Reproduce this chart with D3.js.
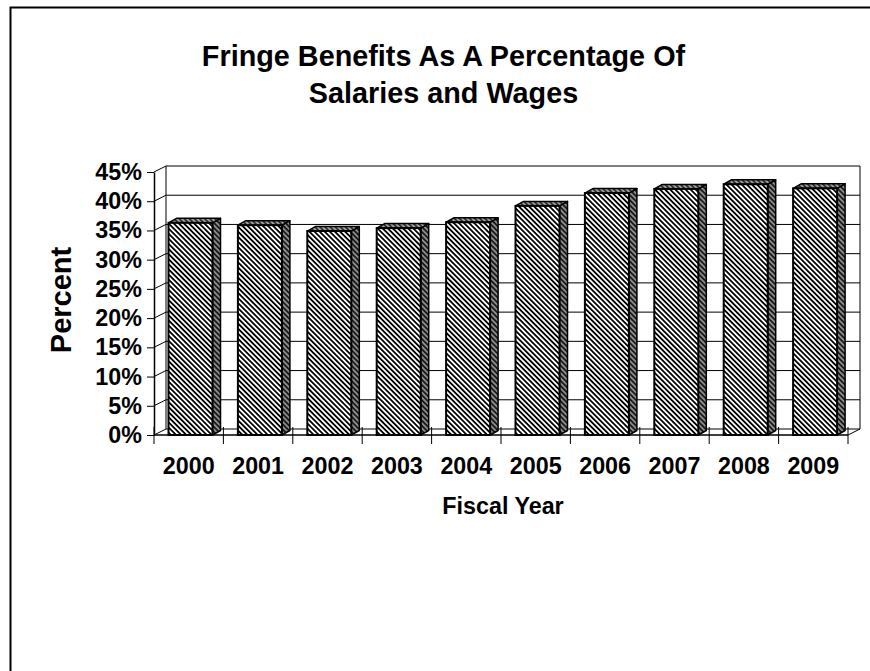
<!DOCTYPE html>
<html>
<head>
<meta charset="utf-8">
<script src="https://cdn.jsdelivr.net/npm/d3@7"></script>
<style>
  html, body { margin: 0; padding: 0; background: #fff; }
  svg { display: block; }
  text { font-family: "Liberation Sans", Arial, sans-serif; font-weight: bold; fill: #000; }
</style>
</head>
<body>
<svg id="chart" width="870" height="671"></svg>
<script>
// ---- data ----
const years = ['2000', '2001', '2002', '2003', '2004', '2005', '2006', '2007', '2008', '2009'];
const values = [36.3, 35.9, 34.9, 35.4, 36.4, 39.2, 41.4, 42.1, 42.9, 42.2];
const yTicks = [0, 5, 10, 15, 20, 25, 30, 35, 40, 45];
const titleLines = ['Fringe Benefits As A Percentage Of', 'Salaries and Wages'];
const xTitle = 'Fiscal Year';
const yTitle = 'Percent';

(function () {
// ---- layout ----
const svg = d3.select('#chart');
const pLeft = 154, pRight = 848, pBottom = 435, pTop = 172;
const depthX = 12, depthY = -6;      // wall depth
const barDX = 8, barDY = -4.5;       // bar depth
const barOffset = 14.5, barW = 44;

const x = d3.scaleBand().domain(years).range([pLeft, pRight]).padding(0);
const y = d3.scaleLinear().domain([0, 45]).range([pBottom, pTop]);

// outer frame
svg.append('rect').attr('x', 10.5).attr('y', 7.5).attr('width', 900).attr('height', 700)
  .attr('fill', 'none').attr('stroke', '#000').attr('stroke-width', 2);

// patterns: diagonal "\" stripes
const defs = svg.append('defs');
function stripePattern(id, bg, fg, period) {
  const w = period * Math.SQRT1_2;
  const p = defs.append('pattern').attr('id', id).attr('patternUnits', 'userSpaceOnUse')
    .attr('width', w).attr('height', 10).attr('patternTransform', 'rotate(-45)');
  p.append('rect').attr('width', w).attr('height', 10).attr('fill', bg);
  p.append('rect').attr('width', w / 2).attr('height', 10).attr('fill', fg);
}
stripePattern('front', '#ffffff', '#000000', 5.1);
stripePattern('side', '#8c8c8c', '#1a1a1a', 5.1);
stripePattern('topf', '#a0a0a0', '#303030', 5.1);

const g = svg.append('g');
const line = (x1, y1, x2, y2, w = 1) => g.append('line')
  .attr('x1', x1).attr('y1', y1).attr('x2', x2).attr('y2', y2)
  .attr('stroke', '#000').attr('stroke-width', w);

// back wall gridlines
yTicks.forEach(t => {
  line(pLeft + depthX, y(t) + depthY, pRight + depthX, y(t) + depthY);
  line(pLeft, y(t), pLeft + depthX, y(t) + depthY);
});
// back wall edges
line(pLeft + depthX, y(45) + depthY, pLeft + depthX, y(0) + depthY);
line(pRight + depthX, y(45) + depthY, pRight + depthX, y(0) + depthY);
// floor
line(pLeft, y(0), pRight, y(0), 1.5);
line(pRight, y(0), pRight + depthX, y(0) + depthY);

// x boundary ticks (crossing)
const bounds = years.map(d => x(d)).concat([pRight]);
bounds.forEach(b => line(b, pBottom - 8, b, pBottom + 9));

// bars
const bars = g.selectAll('.bar').data(years.map((d, i) => ({ year: d, v: values[i] })))
  .enter().append('g').attr('class', 'bar');
bars.append('polygon')
  .attr('points', d => {
    const bx = x(d.year) + barOffset + barW, t = y(d.v), b = y(0);
    return [[bx, t], [bx + barDX, t + barDY], [bx + barDX, b + barDY], [bx, b]].map(p => p.join(',')).join(' ');
  })
  .attr('fill', 'url(#side)').attr('stroke', '#000').attr('stroke-width', 1.5).attr('stroke-linejoin', 'round');
bars.append('polygon')
  .attr('points', d => {
    const bx = x(d.year) + barOffset, t = y(d.v);
    return [[bx, t], [bx + barDX, t + barDY], [bx + barW + barDX, t + barDY], [bx + barW, t]].map(p => p.join(',')).join(' ');
  })
  .attr('fill', 'url(#topf)').attr('stroke', '#000').attr('stroke-width', 1.5).attr('stroke-linejoin', 'round');
bars.append('rect')
  .attr('x', d => x(d.year) + barOffset)
  .attr('y', d => y(d.v))
  .attr('width', barW)
  .attr('height', d => y(0) - y(d.v))
  .attr('fill', 'url(#front)').attr('stroke', '#000').attr('stroke-width', 2);

// y axis
const yAxis = d3.axisLeft(y).tickValues(yTicks).tickFormat(d => d + '%')
  .tickSize(7).tickSizeOuter(0).tickPadding(5);
const ya = svg.append('g').attr('transform', `translate(${pLeft},0)`).call(yAxis);
ya.select('.domain').attr('stroke', '#000').attr('stroke-width', 1.5);
ya.selectAll('.tick line').attr('stroke', '#000');
ya.selectAll('.tick text').attr('font-size', '23.3px')
  .attr('font-family', '"Liberation Sans", Arial, sans-serif').attr('font-weight', 'bold').attr('fill', '#000');

// x axis labels
const xAxis = d3.axisBottom(x).tickSize(0).tickPadding(22);
const xa = svg.append('g').attr('transform', `translate(0,${pBottom})`).call(xAxis);
xa.select('.domain').remove();
xa.selectAll('.tick text').attr('font-size', '23.3px')
  .attr('font-family', '"Liberation Sans", Arial, sans-serif').attr('font-weight', 'bold').attr('fill', '#000');

// titles
svg.append('g').selectAll('text').data(titleLines).enter().append('text')
  .attr('x', 443.5).attr('y', (d, i) => 66 + i * 37)
  .attr('text-anchor', 'middle').attr('font-size', '28.8px').text(d => d);

svg.append('text').attr('x', (pLeft + pRight) / 2 + 2).attr('y', 514)
  .attr('text-anchor', 'middle').attr('font-size', '23.3px').text(xTitle);

svg.append('text').attr('transform', 'translate(71,300) rotate(-90)')
  .attr('text-anchor', 'middle').attr('font-size', '29px').text(yTitle);
})();
</script>
</body>
</html>
